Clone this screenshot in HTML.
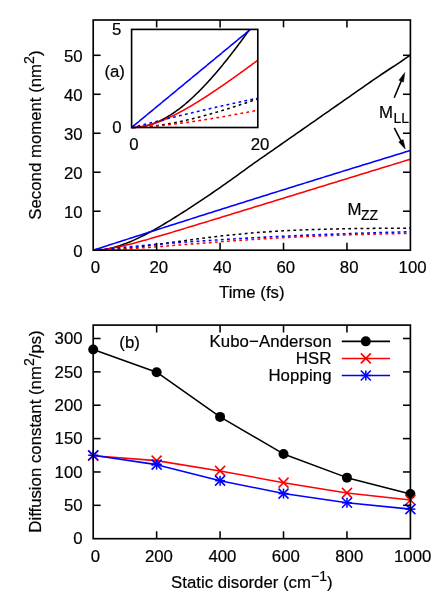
<!DOCTYPE html>
<html lang="en"><head><meta charset="utf-8"><title>Second moment and diffusion constant</title>
<style>html,body{margin:0;padding:0;background:#fff}svg{display:block;will-change:transform}text{stroke:#000;stroke-width:0.2px}</style></head>
<body>
<svg width="436" height="610" viewBox="0 0 436 610" font-family="'Liberation Sans', sans-serif" font-size="16.8" fill="#000">
<rect width="436" height="610" fill="#fff"/>
<g fill="none" stroke-width="1.55" stroke-linejoin="round">
<path d="M93.20,250.20 L95.84,250.16 L98.49,250.03 L101.13,249.80 L103.77,249.48 L106.42,249.06 L109.06,248.56 L111.70,247.96 L114.35,247.29 L116.99,246.53 L119.63,245.71 L122.28,244.81 L124.92,243.85 L127.56,242.82 L130.21,241.73 L132.85,240.60 L135.49,239.41 L138.14,238.17 L140.78,236.88 L143.42,235.56 L146.07,234.20 L148.71,232.80 L151.35,231.36 L154.00,229.90 L156.64,228.40 L159.28,226.88 L161.93,225.33 L164.57,223.76 L167.21,222.17 L169.86,220.56 L172.50,218.93 L175.14,217.28 L177.79,215.62 L180.43,213.94 L183.07,212.25 L185.72,210.55 L188.36,208.83 L191.00,207.11 L193.65,205.37 L196.29,203.62 L198.93,201.87 L201.58,200.11 L204.22,198.34 L206.86,196.57 L209.51,194.79 L212.15,193.00 L214.79,191.21 L217.44,189.39 L220.08,187.56 L222.72,185.71 L225.37,183.84 L228.01,181.96 L230.65,180.07 L233.30,178.17 L235.94,176.26 L238.58,174.35 L241.23,172.44 L243.87,170.53 L246.51,168.63 L249.16,166.73 L251.80,164.83 L254.44,162.95 L257.09,161.08 L259.73,159.22 L262.37,157.39 L265.02,155.55 L267.66,153.71 L270.30,151.87 L272.95,150.03 L275.59,148.19 L278.23,146.35 L280.88,144.51 L283.52,142.67 L286.16,140.82 L288.81,138.98 L291.45,137.14 L294.09,135.29 L296.74,133.45 L299.38,131.60 L302.02,129.76 L304.67,127.91 L307.31,126.07 L309.95,124.22 L312.60,122.38 L315.24,120.53 L317.88,118.69 L320.53,116.84 L323.17,114.99 L325.81,113.15 L328.46,111.30 L331.10,109.45 L333.74,107.61 L336.39,105.76 L339.03,103.91 L341.67,102.07 L344.32,100.22 L346.96,98.37 L349.60,96.53 L352.25,94.68 L354.89,92.83 L357.53,90.98 L360.18,89.14 L362.82,87.29 L365.46,85.44 L368.11,83.59 L370.75,81.75 L373.39,79.90 L376.04,78.08 L378.68,76.28 L381.32,74.51 L383.97,72.74 L386.61,71.00 L389.25,69.25 L391.90,67.52 L394.54,65.78 L397.18,64.03 L399.83,62.28 L402.47,60.51 L405.11,58.73 L407.76,56.92 L410.40,55.09" stroke="#000" />
<path d="M93.20,250.20 L95.84,250.15 L98.49,250.01 L101.13,249.79 L103.77,249.50 L106.42,249.15 L109.06,248.74 L111.70,248.29 L114.35,247.79 L116.99,247.26 L119.63,246.69 L122.28,246.10 L124.92,245.47 L127.56,244.83 L130.21,244.16 L132.85,243.48 L135.49,242.79 L138.14,242.07 L140.78,241.35 L143.42,240.62 L146.07,239.88 L148.71,239.12 L151.35,238.37 L154.00,237.60 L156.64,236.83 L159.28,236.06 L161.93,235.28 L164.57,234.49 L167.21,233.71 L169.86,232.92 L172.50,232.12 L175.14,231.33 L177.79,230.53 L180.43,229.73 L183.07,228.93 L185.72,228.13 L188.36,227.33 L191.00,226.52 L193.65,225.72 L196.29,224.91 L198.93,224.11 L201.58,223.30 L204.22,222.49 L206.86,221.68 L209.51,220.88 L212.15,220.07 L214.79,219.26 L217.44,218.45 L220.08,217.64 L222.72,216.83 L225.37,216.02 L228.01,215.21 L230.65,214.39 L233.30,213.58 L235.94,212.77 L238.58,211.96 L241.23,211.15 L243.87,210.34 L246.51,209.53 L249.16,208.72 L251.80,207.90 L254.44,207.09 L257.09,206.28 L259.73,205.47 L262.37,204.66 L265.02,203.84 L267.66,203.03 L270.30,202.22 L272.95,201.41 L275.59,200.60 L278.23,199.78 L280.88,198.97 L283.52,198.16 L286.16,197.35 L288.81,196.54 L291.45,195.72 L294.09,194.91 L296.74,194.10 L299.38,193.29 L302.02,192.48 L304.67,191.66 L307.31,190.85 L309.95,190.04 L312.60,189.23 L315.24,188.42 L317.88,187.60 L320.53,186.79 L323.17,185.98 L325.81,185.17 L328.46,184.36 L331.10,183.54 L333.74,182.73 L336.39,181.92 L339.03,181.11 L341.67,180.30 L344.32,179.48 L346.96,178.67 L349.60,177.86 L352.25,177.05 L354.89,176.24 L357.53,175.42 L360.18,174.61 L362.82,173.80 L365.46,172.99 L368.11,172.18 L370.75,171.36 L373.39,170.55 L376.04,169.74 L378.68,168.93 L381.32,168.11 L383.97,167.30 L386.61,166.49 L389.25,165.68 L391.90,164.87 L394.54,164.05 L397.18,163.24 L399.83,162.43 L402.47,161.62 L405.11,160.81 L407.76,159.99 L410.40,159.18" stroke="#ff0000" />
<path d="M93.20,250.20 L95.84,249.35 L98.49,248.49 L101.13,247.64 L103.77,246.79 L106.42,245.94 L109.06,245.08 L111.70,244.23 L114.35,243.38 L116.99,242.53 L119.63,241.68 L122.28,240.83 L124.92,239.98 L127.56,239.13 L130.21,238.29 L132.85,237.44 L135.49,236.59 L138.14,235.74 L140.78,234.90 L143.42,234.05 L146.07,233.20 L148.71,232.36 L151.35,231.51 L154.00,230.67 L156.64,229.82 L159.28,228.98 L161.93,228.13 L164.57,227.29 L167.21,226.45 L169.86,225.60 L172.50,224.76 L175.14,223.92 L177.79,223.08 L180.43,222.24 L183.07,221.39 L185.72,220.55 L188.36,219.71 L191.00,218.87 L193.65,218.03 L196.29,217.20 L198.93,216.36 L201.58,215.52 L204.22,214.68 L206.86,213.84 L209.51,213.01 L212.15,212.17 L214.79,211.33 L217.44,210.50 L220.08,209.66 L222.72,208.83 L225.37,207.99 L228.01,207.16 L230.65,206.32 L233.30,205.49 L235.94,204.65 L238.58,203.82 L241.23,202.99 L243.87,202.16 L246.51,201.33 L249.16,200.49 L251.80,199.66 L254.44,198.83 L257.09,198.00 L259.73,197.17 L262.37,196.34 L265.02,195.51 L267.66,194.68 L270.30,193.86 L272.95,193.03 L275.59,192.20 L278.23,191.37 L280.88,190.55 L283.52,189.72 L286.16,188.89 L288.81,188.07 L291.45,187.24 L294.09,186.42 L296.74,185.59 L299.38,184.77 L302.02,183.94 L304.67,183.12 L307.31,182.30 L309.95,181.47 L312.60,180.65 L315.24,179.83 L317.88,179.01 L320.53,178.19 L323.17,177.37 L325.81,176.55 L328.46,175.73 L331.10,174.91 L333.74,174.09 L336.39,173.27 L339.03,172.45 L341.67,171.63 L344.32,170.81 L346.96,169.99 L349.60,169.18 L352.25,168.36 L354.89,167.54 L357.53,166.73 L360.18,165.91 L362.82,165.10 L365.46,164.28 L368.11,163.47 L370.75,162.65 L373.39,161.84 L376.04,161.03 L378.68,160.21 L381.32,159.40 L383.97,158.59 L386.61,157.78 L389.25,156.97 L391.90,156.16 L394.54,155.35 L397.18,154.53 L399.83,153.72 L402.47,152.92 L405.11,152.11 L407.76,151.30 L410.40,150.49" stroke="#0000ff" />
<path d="M93.20,250.20 L95.84,250.18 L98.49,250.12 L101.13,250.03 L103.77,249.92 L106.42,249.79 L109.06,249.64 L111.70,249.46 L114.35,249.27 L116.99,249.07 L119.63,248.84 L122.28,248.60 L124.92,248.35 L127.56,248.08 L130.21,247.80 L132.85,247.51 L135.49,247.21 L138.14,246.90 L140.78,246.58 L143.42,246.25 L146.07,245.91 L148.71,245.57 L151.35,245.22 L154.00,244.87 L156.64,244.51 L159.28,244.15 L161.93,243.79 L164.57,243.42 L167.21,243.05 L169.86,242.68 L172.50,242.31 L175.14,241.94 L177.79,241.58 L180.43,241.21 L183.07,240.84 L185.72,240.48 L188.36,240.12 L191.00,239.76 L193.65,239.41 L196.29,239.05 L198.93,238.71 L201.58,238.37 L204.22,238.03 L206.86,237.70 L209.51,237.37 L212.15,237.05 L214.79,236.73 L217.44,236.42 L220.08,236.12 L222.72,235.82 L225.37,235.53 L228.01,235.25 L230.65,234.97 L233.30,234.70 L235.94,234.43 L238.58,234.18 L241.23,233.93 L243.87,233.68 L246.51,233.45 L249.16,233.22 L251.80,232.99 L254.44,232.78 L257.09,232.57 L259.73,232.37 L262.37,232.17 L265.02,231.98 L267.66,231.80 L270.30,231.62 L272.95,231.45 L275.59,231.29 L278.23,231.13 L280.88,230.98 L283.52,230.83 L286.16,230.69 L288.81,230.56 L291.45,230.43 L294.09,230.30 L296.74,230.18 L299.38,230.07 L302.02,229.96 L304.67,229.85 L307.31,229.75 L309.95,229.66 L312.60,229.57 L315.24,229.48 L317.88,229.40 L320.53,229.32 L323.17,229.24 L325.81,229.17 L328.46,229.10 L331.10,229.04 L333.74,228.98 L336.39,228.92 L339.03,228.86 L341.67,228.81 L344.32,228.76 L346.96,228.71 L349.60,228.67 L352.25,228.63 L354.89,228.59 L357.53,228.55 L360.18,228.51 L362.82,228.48 L365.46,228.45 L368.11,228.42 L370.75,228.39 L373.39,228.36 L376.04,228.34 L378.68,228.31 L381.32,228.29 L383.97,228.27 L386.61,228.25 L389.25,228.23 L391.90,228.22 L394.54,228.20 L397.18,228.19 L399.83,228.17 L402.47,228.16 L405.11,228.15 L407.76,228.13 L410.40,228.12" stroke="#000" stroke-dasharray="2.8 3.3"/>
<path d="M93.20,250.20 L95.84,250.17 L98.49,250.12 L101.13,250.05 L103.77,249.97 L106.42,249.88 L109.06,249.77 L111.70,249.66 L114.35,249.53 L116.99,249.40 L119.63,249.26 L122.28,249.11 L124.92,248.96 L127.56,248.80 L130.21,248.64 L132.85,248.47 L135.49,248.29 L138.14,248.11 L140.78,247.93 L143.42,247.75 L146.07,247.56 L148.71,247.36 L151.35,247.17 L154.00,246.97 L156.64,246.77 L159.28,246.57 L161.93,246.36 L164.57,246.16 L167.21,245.95 L169.86,245.74 L172.50,245.53 L175.14,245.32 L177.79,245.11 L180.43,244.90 L183.07,244.69 L185.72,244.48 L188.36,244.27 L191.00,244.06 L193.65,243.85 L196.29,243.64 L198.93,243.43 L201.58,243.22 L204.22,243.02 L206.86,242.81 L209.51,242.61 L212.15,242.40 L214.79,242.20 L217.44,242.00 L220.08,241.80 L222.72,241.60 L225.37,241.41 L228.01,241.22 L230.65,241.02 L233.30,240.83 L235.94,240.65 L238.58,240.46 L241.23,240.28 L243.87,240.10 L246.51,239.92 L249.16,239.74 L251.80,239.57 L254.44,239.39 L257.09,239.22 L259.73,239.06 L262.37,238.89 L265.02,238.73 L267.66,238.57 L270.30,238.41 L272.95,238.26 L275.59,238.10 L278.23,237.95 L280.88,237.81 L283.52,237.66 L286.16,237.52 L288.81,237.38 L291.45,237.24 L294.09,237.11 L296.74,236.97 L299.38,236.84 L302.02,236.72 L304.67,236.59 L307.31,236.47 L309.95,236.35 L312.60,236.23 L315.24,236.11 L317.88,236.00 L320.53,235.89 L323.17,235.78 L325.81,235.68 L328.46,235.57 L331.10,235.47 L333.74,235.37 L336.39,235.28 L339.03,235.18 L341.67,235.09 L344.32,235.00 L346.96,234.91 L349.60,234.83 L352.25,234.74 L354.89,234.66 L357.53,234.58 L360.18,234.50 L362.82,234.43 L365.46,234.35 L368.11,234.28 L370.75,234.21 L373.39,234.14 L376.04,234.08 L378.68,234.01 L381.32,233.95 L383.97,233.89 L386.61,233.83 L389.25,233.77 L391.90,233.71 L394.54,233.66 L397.18,233.60 L399.83,233.55 L402.47,233.50 L405.11,233.45 L407.76,233.40 L410.40,233.36" stroke="#ff0000" stroke-dasharray="2.8 3.3"/>
<path d="M93.20,250.20 L95.84,249.95 L98.49,249.70 L101.13,249.44 L103.77,249.18 L106.42,248.92 L109.06,248.66 L111.70,248.41 L114.35,248.15 L116.99,247.90 L119.63,247.65 L122.28,247.40 L124.92,247.16 L127.56,246.91 L130.21,246.67 L132.85,246.43 L135.49,246.19 L138.14,245.96 L140.78,245.72 L143.42,245.49 L146.07,245.26 L148.71,245.04 L151.35,244.81 L154.00,244.59 L156.64,244.37 L159.28,244.15 L161.93,243.94 L164.57,243.72 L167.21,243.51 L169.86,243.30 L172.50,243.10 L175.14,242.89 L177.79,242.69 L180.43,242.49 L183.07,242.29 L185.72,242.10 L188.36,241.90 L191.00,241.71 L193.65,241.52 L196.29,241.33 L198.93,241.15 L201.58,240.96 L204.22,240.78 L206.86,240.60 L209.51,240.43 L212.15,240.25 L214.79,240.08 L217.44,239.90 L220.08,239.74 L222.72,239.57 L225.37,239.40 L228.01,239.24 L230.65,239.07 L233.30,238.91 L235.94,238.75 L238.58,238.60 L241.23,238.44 L243.87,238.29 L246.51,238.14 L249.16,237.99 L251.80,237.84 L254.44,237.69 L257.09,237.54 L259.73,237.40 L262.37,237.26 L265.02,237.12 L267.66,236.98 L270.30,236.84 L272.95,236.70 L275.59,236.57 L278.23,236.44 L280.88,236.31 L283.52,236.18 L286.16,236.05 L288.81,235.93 L291.45,235.81 L294.09,235.69 L296.74,235.58 L299.38,235.46 L302.02,235.35 L304.67,235.24 L307.31,235.13 L309.95,235.02 L312.60,234.91 L315.24,234.80 L317.88,234.70 L320.53,234.59 L323.17,234.49 L325.81,234.39 L328.46,234.29 L331.10,234.19 L333.74,234.09 L336.39,233.99 L339.03,233.90 L341.67,233.80 L344.32,233.71 L346.96,233.62 L349.60,233.53 L352.25,233.44 L354.89,233.35 L357.53,233.26 L360.18,233.18 L362.82,233.09 L365.46,233.01 L368.11,232.93 L370.75,232.85 L373.39,232.77 L376.04,232.69 L378.68,232.61 L381.32,232.53 L383.97,232.45 L386.61,232.38 L389.25,232.30 L391.90,232.23 L394.54,232.16 L397.18,232.09 L399.83,232.01 L402.47,231.94 L405.11,231.88 L407.76,231.81 L410.40,231.74" stroke="#0000ff" stroke-dasharray="2.8 3.3"/>
</g>
<rect x="131.60" y="29.40" width="126.20" height="98.10" fill="#fff"/>
<g fill="none" stroke-width="1.55" stroke-linejoin="round">
<path d="M131.60,127.50 L132.23,127.50 L132.86,127.49 L133.49,127.48 L134.12,127.46 L134.75,127.43 L135.39,127.40 L136.02,127.36 L136.65,127.32 L137.28,127.26 L137.91,127.21 L138.54,127.14 L139.17,127.07 L139.80,126.99 L140.43,126.90 L141.06,126.81 L141.70,126.71 L142.33,126.60 L142.96,126.49 L143.59,126.37 L144.22,126.24 L144.85,126.10 L145.48,125.96 L146.11,125.81 L146.74,125.66 L147.38,125.49 L148.01,125.32 L148.64,125.15 L149.27,124.96 L149.90,124.77 L150.53,124.57 L151.16,124.37 L151.79,124.16 L152.42,123.94 L153.05,123.72 L153.69,123.49 L154.32,123.25 L154.95,123.00 L155.58,122.75 L156.21,122.49 L156.84,122.23 L157.47,121.96 L158.10,121.68 L158.73,121.39 L159.36,121.10 L160.00,120.81 L160.63,120.50 L161.26,120.19 L161.89,119.88 L162.52,119.55 L163.15,119.22 L163.78,118.89 L164.41,118.55 L165.04,118.20 L165.67,117.84 L166.31,117.48 L166.94,117.12 L167.57,116.75 L168.20,116.37 L168.83,115.98 L169.46,115.59 L170.09,115.20 L170.72,114.79 L171.35,114.39 L171.98,113.97 L172.62,113.55 L173.25,113.13 L173.88,112.70 L174.51,112.26 L175.14,111.82 L175.77,111.37 L176.40,110.92 L177.03,110.46 L177.66,109.99 L178.29,109.52 L178.93,109.05 L179.56,108.57 L180.19,108.08 L180.82,107.59 L181.45,107.10 L182.08,106.59 L182.71,106.09 L183.34,105.57 L183.97,105.06 L184.60,104.53 L185.24,104.01 L185.87,103.47 L186.50,102.94 L187.13,102.40 L187.76,101.85 L188.39,101.30 L189.02,100.74 L189.65,100.18 L190.28,99.61 L190.91,99.04 L191.55,98.46 L192.18,97.88 L192.81,97.30 L193.44,96.71 L194.07,96.11 L194.70,95.51 L195.33,94.91 L195.96,94.30 L196.59,93.69 L197.22,93.07 L197.86,92.45 L198.49,91.83 L199.12,91.20 L199.75,90.56 L200.38,89.92 L201.01,89.28 L201.64,88.63 L202.27,87.98 L202.90,87.33 L203.53,86.67 L204.17,86.01 L204.80,85.34 L205.43,84.67 L206.06,83.99 L206.69,83.31 L207.32,82.63 L207.95,81.94 L208.58,81.25 L209.21,80.56 L209.84,79.86 L210.47,79.16 L211.11,78.45 L211.74,77.74 L212.37,77.03 L213.00,76.31 L213.63,75.59 L214.26,74.87 L214.89,74.14 L215.52,73.41 L216.15,72.68 L216.78,71.94 L217.42,71.20 L218.05,70.45 L218.68,69.71 L219.31,68.95 L219.94,68.20 L220.57,67.44 L221.20,66.68 L221.83,65.92 L222.46,65.15 L223.09,64.38 L223.73,63.60 L224.36,62.83 L224.99,62.05 L225.62,61.26 L226.25,60.48 L226.88,59.69 L227.51,58.90 L228.14,58.10 L228.77,57.30 L229.41,56.50 L230.04,55.70 L230.67,54.89 L231.30,54.08 L231.93,53.27 L232.56,52.45 L233.19,51.63 L233.82,50.81 L234.45,49.99 L235.08,49.16 L235.72,48.33 L236.35,47.50 L236.98,46.67 L237.61,45.83 L238.24,44.99 L238.87,44.15 L239.50,43.30 L240.13,42.46 L240.76,41.61 L241.39,40.75 L242.03,39.90 L242.66,39.04 L243.29,38.18 L243.92,37.32 L244.55,36.46 L245.18,35.59 L245.81,34.72 L246.44,33.85 L247.07,32.97 L247.70,32.10 L248.34,31.22 L248.97,30.34 L249.60,29.46 L249.64,29.40" stroke="#000" />
<path d="M131.60,127.50 L132.23,127.50 L132.86,127.49 L133.49,127.47 L134.12,127.44 L134.75,127.41 L135.39,127.37 L136.02,127.32 L136.65,127.27 L137.28,127.21 L137.91,127.15 L138.54,127.07 L139.17,127.00 L139.80,126.91 L140.43,126.82 L141.06,126.72 L141.70,126.62 L142.33,126.51 L142.96,126.40 L143.59,126.28 L144.22,126.15 L144.85,126.02 L145.48,125.89 L146.11,125.74 L146.74,125.60 L147.38,125.45 L148.01,125.29 L148.64,125.13 L149.27,124.96 L149.90,124.79 L150.53,124.61 L151.16,124.43 L151.79,124.24 L152.42,124.05 L153.05,123.86 L153.69,123.66 L154.32,123.45 L154.95,123.24 L155.58,123.03 L156.21,122.81 L156.84,122.59 L157.47,122.37 L158.10,122.14 L158.73,121.91 L159.36,121.67 L160.00,121.43 L160.63,121.19 L161.26,120.94 L161.89,120.69 L162.52,120.43 L163.15,120.17 L163.78,119.91 L164.41,119.64 L165.04,119.37 L165.67,119.10 L166.31,118.83 L166.94,118.55 L167.57,118.27 L168.20,117.98 L168.83,117.69 L169.46,117.40 L170.09,117.11 L170.72,116.81 L171.35,116.51 L171.98,116.21 L172.62,115.90 L173.25,115.59 L173.88,115.28 L174.51,114.97 L175.14,114.65 L175.77,114.33 L176.40,114.01 L177.03,113.68 L177.66,113.36 L178.29,113.03 L178.93,112.69 L179.56,112.36 L180.19,112.02 L180.82,111.68 L181.45,111.34 L182.08,111.00 L182.71,110.65 L183.34,110.31 L183.97,109.96 L184.60,109.60 L185.24,109.25 L185.87,108.89 L186.50,108.54 L187.13,108.18 L187.76,107.81 L188.39,107.45 L189.02,107.08 L189.65,106.72 L190.28,106.35 L190.91,105.97 L191.55,105.60 L192.18,105.23 L192.81,104.85 L193.44,104.47 L194.07,104.09 L194.70,103.71 L195.33,103.32 L195.96,102.94 L196.59,102.55 L197.22,102.16 L197.86,101.77 L198.49,101.38 L199.12,100.99 L199.75,100.60 L200.38,100.20 L201.01,99.80 L201.64,99.40 L202.27,99.01 L202.90,98.60 L203.53,98.20 L204.17,97.80 L204.80,97.39 L205.43,96.99 L206.06,96.58 L206.69,96.17 L207.32,95.76 L207.95,95.35 L208.58,94.93 L209.21,94.52 L209.84,94.11 L210.47,93.69 L211.11,93.27 L211.74,92.85 L212.37,92.43 L213.00,92.01 L213.63,91.59 L214.26,91.17 L214.89,90.75 L215.52,90.32 L216.15,89.90 L216.78,89.47 L217.42,89.04 L218.05,88.61 L218.68,88.18 L219.31,87.75 L219.94,87.32 L220.57,86.89 L221.20,86.46 L221.83,86.02 L222.46,85.59 L223.09,85.15 L223.73,84.72 L224.36,84.28 L224.99,83.84 L225.62,83.40 L226.25,82.96 L226.88,82.52 L227.51,82.08 L228.14,81.64 L228.77,81.20 L229.41,80.75 L230.04,80.31 L230.67,79.86 L231.30,79.42 L231.93,78.97 L232.56,78.53 L233.19,78.08 L233.82,77.63 L234.45,77.18 L235.08,76.73 L235.72,76.28 L236.35,75.83 L236.98,75.38 L237.61,74.93 L238.24,74.48 L238.87,74.02 L239.50,73.57 L240.13,73.12 L240.76,72.66 L241.39,72.21 L242.03,71.75 L242.66,71.30 L243.29,70.84 L243.92,70.38 L244.55,69.92 L245.18,69.47 L245.81,69.01 L246.44,68.55 L247.07,68.09 L247.70,67.63 L248.34,67.17 L248.97,66.71 L249.60,66.25 L250.23,65.78 L250.86,65.32 L251.49,64.86 L252.12,64.40 L252.75,63.93 L253.38,63.47 L254.01,63.00 L254.65,62.54 L255.28,62.07 L255.91,61.61 L256.54,61.14 L257.17,60.68 L257.80,60.21" stroke="#ff0000" />
<path d="M131.60,127.50 L132.23,126.98 L132.86,126.46 L133.49,125.94 L134.12,125.42 L134.75,124.90 L135.39,124.37 L136.02,123.85 L136.65,123.33 L137.28,122.81 L137.91,122.29 L138.54,121.77 L139.17,121.25 L139.80,120.73 L140.43,120.21 L141.06,119.69 L141.70,119.17 L142.33,118.64 L142.96,118.12 L143.59,117.60 L144.22,117.08 L144.85,116.56 L145.48,116.04 L146.11,115.52 L146.74,115.00 L147.38,114.48 L148.01,113.96 L148.64,113.44 L149.27,112.91 L149.90,112.39 L150.53,111.87 L151.16,111.35 L151.79,110.83 L152.42,110.31 L153.05,109.79 L153.69,109.27 L154.32,108.75 L154.95,108.23 L155.58,107.71 L156.21,107.18 L156.84,106.66 L157.47,106.14 L158.10,105.62 L158.73,105.10 L159.36,104.58 L160.00,104.06 L160.63,103.54 L161.26,103.02 L161.89,102.50 L162.52,101.98 L163.15,101.45 L163.78,100.93 L164.41,100.41 L165.04,99.89 L165.67,99.37 L166.31,98.85 L166.94,98.33 L167.57,97.81 L168.20,97.29 L168.83,96.77 L169.46,96.25 L170.09,95.72 L170.72,95.20 L171.35,94.68 L171.98,94.16 L172.62,93.64 L173.25,93.12 L173.88,92.60 L174.51,92.08 L175.14,91.56 L175.77,91.04 L176.40,90.52 L177.03,89.99 L177.66,89.47 L178.29,88.95 L178.93,88.43 L179.56,87.91 L180.19,87.39 L180.82,86.87 L181.45,86.35 L182.08,85.83 L182.71,85.31 L183.34,84.79 L183.97,84.26 L184.60,83.74 L185.24,83.22 L185.87,82.70 L186.50,82.18 L187.13,81.66 L187.76,81.14 L188.39,80.62 L189.02,80.10 L189.65,79.58 L190.28,79.06 L190.91,78.53 L191.55,78.01 L192.18,77.49 L192.81,76.97 L193.44,76.45 L194.07,75.93 L194.70,75.41 L195.33,74.89 L195.96,74.37 L196.59,73.85 L197.22,73.33 L197.86,72.80 L198.49,72.28 L199.12,71.76 L199.75,71.24 L200.38,70.72 L201.01,70.20 L201.64,69.68 L202.27,69.16 L202.90,68.64 L203.53,68.12 L204.17,67.60 L204.80,67.07 L205.43,66.55 L206.06,66.03 L206.69,65.51 L207.32,64.99 L207.95,64.47 L208.58,63.95 L209.21,63.43 L209.84,62.91 L210.47,62.39 L211.11,61.87 L211.74,61.34 L212.37,60.82 L213.00,60.30 L213.63,59.78 L214.26,59.26 L214.89,58.74 L215.52,58.22 L216.15,57.70 L216.78,57.18 L217.42,56.66 L218.05,56.14 L218.68,55.61 L219.31,55.09 L219.94,54.57 L220.57,54.05 L221.20,53.53 L221.83,53.01 L222.46,52.49 L223.09,51.97 L223.73,51.45 L224.36,50.93 L224.99,50.41 L225.62,49.88 L226.25,49.36 L226.88,48.84 L227.51,48.32 L228.14,47.80 L228.77,47.28 L229.41,46.76 L230.04,46.24 L230.67,45.72 L231.30,45.20 L231.93,44.68 L232.56,44.15 L233.19,43.63 L233.82,43.11 L234.45,42.59 L235.08,42.07 L235.72,41.55 L236.35,41.03 L236.98,40.51 L237.61,39.99 L238.24,39.47 L238.87,38.95 L239.50,38.42 L240.13,37.90 L240.76,37.38 L241.39,36.86 L242.03,36.34 L242.66,35.82 L243.29,35.30 L243.92,34.78 L244.55,34.26 L245.18,33.74 L245.81,33.22 L246.44,32.69 L247.07,32.17 L247.70,31.65 L248.34,31.13 L248.97,30.61 L249.60,30.09 L250.23,29.57 L250.43,29.40" stroke="#0000ff" />
<path d="M131.60,127.50 L132.23,127.50 L132.86,127.49 L133.49,127.48 L134.12,127.47 L134.75,127.45 L135.39,127.43 L136.02,127.41 L136.65,127.39 L137.28,127.36 L137.91,127.33 L138.54,127.30 L139.17,127.27 L139.80,127.23 L140.43,127.20 L141.06,127.16 L141.70,127.12 L142.33,127.07 L142.96,127.03 L143.59,126.98 L144.22,126.93 L144.85,126.88 L145.48,126.83 L146.11,126.77 L146.74,126.72 L147.38,126.66 L148.01,126.60 L148.64,126.54 L149.27,126.47 L149.90,126.41 L150.53,126.34 L151.16,126.27 L151.79,126.20 L152.42,126.13 L153.05,126.06 L153.69,125.98 L154.32,125.91 L154.95,125.83 L155.58,125.75 L156.21,125.67 L156.84,125.58 L157.47,125.50 L158.10,125.41 L158.73,125.32 L159.36,125.23 L160.00,125.14 L160.63,125.05 L161.26,124.96 L161.89,124.86 L162.52,124.77 L163.15,124.67 L163.78,124.57 L164.41,124.47 L165.04,124.37 L165.67,124.26 L166.31,124.16 L166.94,124.05 L167.57,123.95 L168.20,123.84 L168.83,123.73 L169.46,123.61 L170.09,123.50 L170.72,123.39 L171.35,123.27 L171.98,123.16 L172.62,123.04 L173.25,122.92 L173.88,122.80 L174.51,122.68 L175.14,122.55 L175.77,122.43 L176.40,122.30 L177.03,122.18 L177.66,122.05 L178.29,121.92 L178.93,121.79 L179.56,121.66 L180.19,121.52 L180.82,121.39 L181.45,121.26 L182.08,121.12 L182.71,120.98 L183.34,120.84 L183.97,120.71 L184.60,120.56 L185.24,120.42 L185.87,120.28 L186.50,120.14 L187.13,119.99 L187.76,119.85 L188.39,119.70 L189.02,119.55 L189.65,119.40 L190.28,119.25 L190.91,119.10 L191.55,118.95 L192.18,118.80 L192.81,118.64 L193.44,118.49 L194.07,118.33 L194.70,118.17 L195.33,118.02 L195.96,117.86 L196.59,117.70 L197.22,117.54 L197.86,117.38 L198.49,117.21 L199.12,117.05 L199.75,116.88 L200.38,116.72 L201.01,116.55 L201.64,116.39 L202.27,116.22 L202.90,116.05 L203.53,115.88 L204.17,115.71 L204.80,115.54 L205.43,115.37 L206.06,115.19 L206.69,115.02 L207.32,114.84 L207.95,114.67 L208.58,114.49 L209.21,114.31 L209.84,114.14 L210.47,113.96 L211.11,113.78 L211.74,113.60 L212.37,113.42 L213.00,113.24 L213.63,113.05 L214.26,112.87 L214.89,112.69 L215.52,112.50 L216.15,112.32 L216.78,112.13 L217.42,111.94 L218.05,111.76 L218.68,111.57 L219.31,111.38 L219.94,111.19 L220.57,111.00 L221.20,110.81 L221.83,110.62 L222.46,110.43 L223.09,110.23 L223.73,110.04 L224.36,109.85 L224.99,109.65 L225.62,109.46 L226.25,109.26 L226.88,109.06 L227.51,108.87 L228.14,108.67 L228.77,108.47 L229.41,108.27 L230.04,108.08 L230.67,107.88 L231.30,107.68 L231.93,107.47 L232.56,107.27 L233.19,107.07 L233.82,106.87 L234.45,106.67 L235.08,106.46 L235.72,106.26 L236.35,106.06 L236.98,105.85 L237.61,105.65 L238.24,105.44 L238.87,105.23 L239.50,105.03 L240.13,104.82 L240.76,104.61 L241.39,104.40 L242.03,104.20 L242.66,103.99 L243.29,103.78 L243.92,103.57 L244.55,103.36 L245.18,103.15 L245.81,102.94 L246.44,102.73 L247.07,102.52 L247.70,102.30 L248.34,102.09 L248.97,101.88 L249.60,101.67 L250.23,101.45 L250.86,101.24 L251.49,101.02 L252.12,100.81 L252.75,100.60 L253.38,100.38 L254.01,100.17 L254.65,99.95 L255.28,99.73 L255.91,99.52 L256.54,99.30 L257.17,99.09 L257.80,98.87" stroke="#000" stroke-dasharray="2.8 3.3"/>
<path d="M131.60,127.50 L132.23,127.50 L132.86,127.49 L133.49,127.47 L134.12,127.46 L134.75,127.44 L135.39,127.42 L136.02,127.40 L136.65,127.38 L137.28,127.35 L137.91,127.33 L138.54,127.30 L139.17,127.27 L139.80,127.24 L140.43,127.20 L141.06,127.17 L141.70,127.14 L142.33,127.10 L142.96,127.06 L143.59,127.02 L144.22,126.98 L144.85,126.94 L145.48,126.90 L146.11,126.86 L146.74,126.81 L147.38,126.77 L148.01,126.72 L148.64,126.67 L149.27,126.63 L149.90,126.58 L150.53,126.53 L151.16,126.48 L151.79,126.42 L152.42,126.37 L153.05,126.32 L153.69,126.26 L154.32,126.21 L154.95,126.15 L155.58,126.09 L156.21,126.03 L156.84,125.98 L157.47,125.92 L158.10,125.86 L158.73,125.79 L159.36,125.73 L160.00,125.67 L160.63,125.61 L161.26,125.54 L161.89,125.48 L162.52,125.41 L163.15,125.35 L163.78,125.28 L164.41,125.21 L165.04,125.14 L165.67,125.07 L166.31,125.00 L166.94,124.93 L167.57,124.86 L168.20,124.79 L168.83,124.72 L169.46,124.64 L170.09,124.57 L170.72,124.50 L171.35,124.42 L171.98,124.35 L172.62,124.27 L173.25,124.19 L173.88,124.12 L174.51,124.04 L175.14,123.96 L175.77,123.88 L176.40,123.80 L177.03,123.72 L177.66,123.64 L178.29,123.56 L178.93,123.48 L179.56,123.39 L180.19,123.31 L180.82,123.23 L181.45,123.14 L182.08,123.06 L182.71,122.97 L183.34,122.89 L183.97,122.80 L184.60,122.71 L185.24,122.63 L185.87,122.54 L186.50,122.45 L187.13,122.36 L187.76,122.27 L188.39,122.18 L189.02,122.09 L189.65,122.00 L190.28,121.91 L190.91,121.82 L191.55,121.73 L192.18,121.64 L192.81,121.54 L193.44,121.45 L194.07,121.36 L194.70,121.26 L195.33,121.17 L195.96,121.07 L196.59,120.98 L197.22,120.88 L197.86,120.79 L198.49,120.69 L199.12,120.59 L199.75,120.50 L200.38,120.40 L201.01,120.30 L201.64,120.20 L202.27,120.10 L202.90,120.00 L203.53,119.90 L204.17,119.80 L204.80,119.70 L205.43,119.60 L206.06,119.50 L206.69,119.40 L207.32,119.30 L207.95,119.19 L208.58,119.09 L209.21,118.99 L209.84,118.88 L210.47,118.78 L211.11,118.68 L211.74,118.57 L212.37,118.47 L213.00,118.36 L213.63,118.26 L214.26,118.15 L214.89,118.04 L215.52,117.94 L216.15,117.83 L216.78,117.72 L217.42,117.62 L218.05,117.51 L218.68,117.40 L219.31,117.29 L219.94,117.19 L220.57,117.08 L221.20,116.97 L221.83,116.86 L222.46,116.75 L223.09,116.64 L223.73,116.53 L224.36,116.42 L224.99,116.31 L225.62,116.20 L226.25,116.08 L226.88,115.97 L227.51,115.86 L228.14,115.75 L228.77,115.64 L229.41,115.52 L230.04,115.41 L230.67,115.30 L231.30,115.18 L231.93,115.07 L232.56,114.96 L233.19,114.84 L233.82,114.73 L234.45,114.61 L235.08,114.50 L235.72,114.38 L236.35,114.27 L236.98,114.15 L237.61,114.04 L238.24,113.92 L238.87,113.80 L239.50,113.69 L240.13,113.57 L240.76,113.45 L241.39,113.34 L242.03,113.22 L242.66,113.10 L243.29,112.99 L243.92,112.87 L244.55,112.75 L245.18,112.63 L245.81,112.51 L246.44,112.39 L247.07,112.28 L247.70,112.16 L248.34,112.04 L248.97,111.92 L249.60,111.80 L250.23,111.68 L250.86,111.56 L251.49,111.44 L252.12,111.32 L252.75,111.20 L253.38,111.08 L254.01,110.96 L254.65,110.84 L255.28,110.72 L255.91,110.59 L256.54,110.47 L257.17,110.35 L257.80,110.23" stroke="#ff0000" stroke-dasharray="2.8 3.3"/>
<path d="M131.60,127.50 L132.23,127.36 L132.86,127.21 L133.49,127.07 L134.12,126.91 L134.75,126.76 L135.39,126.61 L136.02,126.46 L136.65,126.30 L137.28,126.15 L137.91,126.00 L138.54,125.84 L139.17,125.69 L139.80,125.53 L140.43,125.38 L141.06,125.22 L141.70,125.06 L142.33,124.91 L142.96,124.75 L143.59,124.60 L144.22,124.44 L144.85,124.28 L145.48,124.13 L146.11,123.97 L146.74,123.82 L147.38,123.66 L148.01,123.50 L148.64,123.35 L149.27,123.19 L149.90,123.03 L150.53,122.88 L151.16,122.72 L151.79,122.56 L152.42,122.41 L153.05,122.25 L153.69,122.10 L154.32,121.94 L154.95,121.78 L155.58,121.63 L156.21,121.47 L156.84,121.32 L157.47,121.16 L158.10,121.00 L158.73,120.85 L159.36,120.69 L160.00,120.54 L160.63,120.38 L161.26,120.23 L161.89,120.07 L162.52,119.92 L163.15,119.76 L163.78,119.61 L164.41,119.45 L165.04,119.30 L165.67,119.14 L166.31,118.99 L166.94,118.84 L167.57,118.68 L168.20,118.53 L168.83,118.37 L169.46,118.22 L170.09,118.07 L170.72,117.91 L171.35,117.76 L171.98,117.60 L172.62,117.45 L173.25,117.30 L173.88,117.15 L174.51,116.99 L175.14,116.84 L175.77,116.69 L176.40,116.54 L177.03,116.38 L177.66,116.23 L178.29,116.08 L178.93,115.93 L179.56,115.77 L180.19,115.62 L180.82,115.47 L181.45,115.32 L182.08,115.17 L182.71,115.02 L183.34,114.87 L183.97,114.72 L184.60,114.57 L185.24,114.42 L185.87,114.26 L186.50,114.11 L187.13,113.96 L187.76,113.81 L188.39,113.66 L189.02,113.52 L189.65,113.37 L190.28,113.22 L190.91,113.07 L191.55,112.92 L192.18,112.77 L192.81,112.62 L193.44,112.47 L194.07,112.32 L194.70,112.18 L195.33,112.03 L195.96,111.88 L196.59,111.73 L197.22,111.58 L197.86,111.44 L198.49,111.29 L199.12,111.14 L199.75,110.99 L200.38,110.85 L201.01,110.70 L201.64,110.55 L202.27,110.41 L202.90,110.26 L203.53,110.12 L204.17,109.97 L204.80,109.82 L205.43,109.68 L206.06,109.53 L206.69,109.39 L207.32,109.24 L207.95,109.10 L208.58,108.95 L209.21,108.81 L209.84,108.66 L210.47,108.52 L211.11,108.37 L211.74,108.23 L212.37,108.09 L213.00,107.94 L213.63,107.80 L214.26,107.66 L214.89,107.51 L215.52,107.37 L216.15,107.23 L216.78,107.08 L217.42,106.94 L218.05,106.80 L218.68,106.66 L219.31,106.51 L219.94,106.37 L220.57,106.23 L221.20,106.09 L221.83,105.95 L222.46,105.81 L223.09,105.67 L223.73,105.52 L224.36,105.38 L224.99,105.24 L225.62,105.10 L226.25,104.96 L226.88,104.82 L227.51,104.68 L228.14,104.54 L228.77,104.40 L229.41,104.26 L230.04,104.12 L230.67,103.98 L231.30,103.85 L231.93,103.71 L232.56,103.57 L233.19,103.43 L233.82,103.29 L234.45,103.15 L235.08,103.01 L235.72,102.88 L236.35,102.74 L236.98,102.60 L237.61,102.46 L238.24,102.33 L238.87,102.19 L239.50,102.05 L240.13,101.92 L240.76,101.78 L241.39,101.64 L242.03,101.51 L242.66,101.37 L243.29,101.24 L243.92,101.10 L244.55,100.96 L245.18,100.83 L245.81,100.69 L246.44,100.56 L247.07,100.42 L247.70,100.29 L248.34,100.15 L248.97,100.02 L249.60,99.88 L250.23,99.75 L250.86,99.62 L251.49,99.48 L252.12,99.35 L252.75,99.22 L253.38,99.08 L254.01,98.95 L254.65,98.82 L255.28,98.68 L255.91,98.55 L256.54,98.42 L257.17,98.29 L257.80,98.15" stroke="#0000ff" stroke-dasharray="2.8 3.3"/>
</g>
<rect x="131.60" y="29.40" width="126.20" height="98.10" fill="none" stroke="#000" stroke-width="1.65"/>
<rect x="93.20" y="20.00" width="317.20" height="230.20" fill="none" stroke="#000" stroke-width="1.65"/>
<line x1="93.20" y1="211.22" x2="100.60" y2="211.22" stroke="#000" stroke-width="1.55" />
<line x1="410.40" y1="211.22" x2="403.00" y2="211.22" stroke="#000" stroke-width="1.55" />
<line x1="93.20" y1="172.24" x2="100.60" y2="172.24" stroke="#000" stroke-width="1.55" />
<line x1="410.40" y1="172.24" x2="403.00" y2="172.24" stroke="#000" stroke-width="1.55" />
<line x1="93.20" y1="133.26" x2="100.60" y2="133.26" stroke="#000" stroke-width="1.55" />
<line x1="410.40" y1="133.26" x2="403.00" y2="133.26" stroke="#000" stroke-width="1.55" />
<line x1="93.20" y1="94.28" x2="100.60" y2="94.28" stroke="#000" stroke-width="1.55" />
<line x1="410.40" y1="94.28" x2="403.00" y2="94.28" stroke="#000" stroke-width="1.55" />
<line x1="93.20" y1="55.30" x2="100.60" y2="55.30" stroke="#000" stroke-width="1.55" />
<line x1="410.40" y1="55.30" x2="403.00" y2="55.30" stroke="#000" stroke-width="1.55" />
<line x1="156.64" y1="250.20" x2="156.64" y2="242.80" stroke="#000" stroke-width="1.55" />
<line x1="156.64" y1="20.00" x2="156.64" y2="27.40" stroke="#000" stroke-width="1.55" />
<line x1="220.08" y1="250.20" x2="220.08" y2="242.80" stroke="#000" stroke-width="1.55" />
<line x1="220.08" y1="20.00" x2="220.08" y2="27.40" stroke="#000" stroke-width="1.55" />
<line x1="283.52" y1="250.20" x2="283.52" y2="242.80" stroke="#000" stroke-width="1.55" />
<line x1="283.52" y1="20.00" x2="283.52" y2="27.40" stroke="#000" stroke-width="1.55" />
<line x1="346.96" y1="250.20" x2="346.96" y2="242.80" stroke="#000" stroke-width="1.55" />
<line x1="346.96" y1="20.00" x2="346.96" y2="27.40" stroke="#000" stroke-width="1.55" />
<text x="82.60" y="256.51" text-anchor="end" >0</text>
<text x="82.60" y="217.53" text-anchor="end" >10</text>
<text x="82.60" y="178.55" text-anchor="end" >20</text>
<text x="82.60" y="139.57" text-anchor="end" >30</text>
<text x="82.60" y="100.59" text-anchor="end" >40</text>
<text x="82.60" y="61.61" text-anchor="end" >50</text>
<text x="95.40" y="273.30" text-anchor="middle" >0</text>
<text x="158.84" y="273.30" text-anchor="middle" >20</text>
<text x="222.28" y="273.30" text-anchor="middle" >40</text>
<text x="285.72" y="273.30" text-anchor="middle" >60</text>
<text x="349.16" y="273.30" text-anchor="middle" >80</text>
<text x="412.60" y="273.30" text-anchor="middle" >100</text>
<text x="251.80" y="298.20" text-anchor="middle" >Time (fs)</text>
<text transform="translate(41.3,135.1) rotate(-90)" text-anchor="middle">Second moment (nm<tspan font-size="14" dy="-7.8">2</tspan><tspan dy="7.8">)</tspan></text>
<text x="121.30" y="34.81" text-anchor="end" >5</text>
<text x="121.60" y="133.01" text-anchor="end" >0</text>
<text x="133.80" y="150.20" text-anchor="middle" >0</text>
<text x="260.00" y="150.20" text-anchor="middle" >20</text>
<text x="104.40" y="76.60" text-anchor="start" >(a)</text>
<text x="379.0" y="117.6">M<tspan font-size="14" dy="5.1" dx="0.6">LL</tspan></text>
<text x="347.6" y="215.1">M<tspan font-size="14" dy="5.1" dx="-0.6">ZZ</tspan></text>
<line x1="394.20" y1="97.80" x2="403.64" y2="75.37" stroke="#000" stroke-width="1.55" />
<polygon points="398.91,80.18 404.80,72.60 403.49,82.11" fill="#000" stroke="#000" stroke-width="0.5" stroke-linejoin="miter"/>
<line x1="394.30" y1="127.90" x2="403.82" y2="146.33" stroke="#000" stroke-width="1.55" />
<polygon points="403.15,139.62 405.20,149.00 398.74,141.90" fill="#000" stroke="#000" stroke-width="0.5" stroke-linejoin="miter"/>
<polyline fill="none" stroke="#000" stroke-width="1.55" stroke-linejoin="round" points="93.20,349.51 156.64,372.20 220.08,416.91 283.52,453.95 346.96,477.64 410.40,494.12"/>
<circle cx="93.20" cy="349.51" r="5.00" fill="#000"/>
<circle cx="156.64" cy="372.20" r="5.00" fill="#000"/>
<circle cx="220.08" cy="416.91" r="5.00" fill="#000"/>
<circle cx="283.52" cy="453.95" r="5.00" fill="#000"/>
<circle cx="346.96" cy="477.64" r="5.00" fill="#000"/>
<circle cx="410.40" cy="494.12" r="5.00" fill="#000"/>
<polyline fill="none" stroke="#ff0000" stroke-width="1.55" stroke-linejoin="round" points="93.20,455.75 156.64,460.62 220.08,470.90 283.52,482.64 346.96,492.92 410.40,499.99"/>
<line x1="88.20" y1="450.75" x2="98.20" y2="460.75" stroke="#ff0000" stroke-width="1.55" />
<line x1="88.20" y1="460.75" x2="98.20" y2="450.75" stroke="#ff0000" stroke-width="1.55" />
<line x1="151.64" y1="455.62" x2="161.64" y2="465.62" stroke="#ff0000" stroke-width="1.55" />
<line x1="151.64" y1="465.62" x2="161.64" y2="455.62" stroke="#ff0000" stroke-width="1.55" />
<line x1="215.08" y1="465.90" x2="225.08" y2="475.90" stroke="#ff0000" stroke-width="1.55" />
<line x1="215.08" y1="475.90" x2="225.08" y2="465.90" stroke="#ff0000" stroke-width="1.55" />
<line x1="278.52" y1="477.64" x2="288.52" y2="487.64" stroke="#ff0000" stroke-width="1.55" />
<line x1="278.52" y1="487.64" x2="288.52" y2="477.64" stroke="#ff0000" stroke-width="1.55" />
<line x1="341.96" y1="487.92" x2="351.96" y2="497.92" stroke="#ff0000" stroke-width="1.55" />
<line x1="341.96" y1="497.92" x2="351.96" y2="487.92" stroke="#ff0000" stroke-width="1.55" />
<line x1="405.40" y1="494.99" x2="415.40" y2="504.99" stroke="#ff0000" stroke-width="1.55" />
<line x1="405.40" y1="504.99" x2="415.40" y2="494.99" stroke="#ff0000" stroke-width="1.55" />
<polyline fill="none" stroke="#0000ff" stroke-width="1.55" stroke-linejoin="round" points="93.20,455.22 156.64,464.63 220.08,480.64 283.52,493.59 346.96,502.80 410.40,509.14"/>
<line x1="88.20" y1="450.22" x2="98.20" y2="460.22" stroke="#0000ff" stroke-width="1.55" />
<line x1="88.20" y1="460.22" x2="98.20" y2="450.22" stroke="#0000ff" stroke-width="1.55" />
<line x1="88.20" y1="455.22" x2="98.20" y2="455.22" stroke="#0000ff" stroke-width="1.55" />
<line x1="93.20" y1="450.22" x2="93.20" y2="460.22" stroke="#0000ff" stroke-width="1.55" />
<line x1="151.64" y1="459.63" x2="161.64" y2="469.63" stroke="#0000ff" stroke-width="1.55" />
<line x1="151.64" y1="469.63" x2="161.64" y2="459.63" stroke="#0000ff" stroke-width="1.55" />
<line x1="151.64" y1="464.63" x2="161.64" y2="464.63" stroke="#0000ff" stroke-width="1.55" />
<line x1="156.64" y1="459.63" x2="156.64" y2="469.63" stroke="#0000ff" stroke-width="1.55" />
<line x1="215.08" y1="475.64" x2="225.08" y2="485.64" stroke="#0000ff" stroke-width="1.55" />
<line x1="215.08" y1="485.64" x2="225.08" y2="475.64" stroke="#0000ff" stroke-width="1.55" />
<line x1="215.08" y1="480.64" x2="225.08" y2="480.64" stroke="#0000ff" stroke-width="1.55" />
<line x1="220.08" y1="475.64" x2="220.08" y2="485.64" stroke="#0000ff" stroke-width="1.55" />
<line x1="278.52" y1="488.59" x2="288.52" y2="498.59" stroke="#0000ff" stroke-width="1.55" />
<line x1="278.52" y1="498.59" x2="288.52" y2="488.59" stroke="#0000ff" stroke-width="1.55" />
<line x1="278.52" y1="493.59" x2="288.52" y2="493.59" stroke="#0000ff" stroke-width="1.55" />
<line x1="283.52" y1="488.59" x2="283.52" y2="498.59" stroke="#0000ff" stroke-width="1.55" />
<line x1="341.96" y1="497.80" x2="351.96" y2="507.80" stroke="#0000ff" stroke-width="1.55" />
<line x1="341.96" y1="507.80" x2="351.96" y2="497.80" stroke="#0000ff" stroke-width="1.55" />
<line x1="341.96" y1="502.80" x2="351.96" y2="502.80" stroke="#0000ff" stroke-width="1.55" />
<line x1="346.96" y1="497.80" x2="346.96" y2="507.80" stroke="#0000ff" stroke-width="1.55" />
<line x1="405.40" y1="504.14" x2="415.40" y2="514.14" stroke="#0000ff" stroke-width="1.55" />
<line x1="405.40" y1="514.14" x2="415.40" y2="504.14" stroke="#0000ff" stroke-width="1.55" />
<line x1="405.40" y1="509.14" x2="415.40" y2="509.14" stroke="#0000ff" stroke-width="1.55" />
<line x1="410.40" y1="504.14" x2="410.40" y2="514.14" stroke="#0000ff" stroke-width="1.55" />
<rect x="93.20" y="325.10" width="317.20" height="213.60" fill="none" stroke="#000" stroke-width="1.65"/>
<line x1="93.20" y1="505.33" x2="100.60" y2="505.33" stroke="#000" stroke-width="1.55" />
<line x1="410.40" y1="505.33" x2="403.00" y2="505.33" stroke="#000" stroke-width="1.55" />
<line x1="93.20" y1="471.97" x2="100.60" y2="471.97" stroke="#000" stroke-width="1.55" />
<line x1="410.40" y1="471.97" x2="403.00" y2="471.97" stroke="#000" stroke-width="1.55" />
<line x1="93.20" y1="438.60" x2="100.60" y2="438.60" stroke="#000" stroke-width="1.55" />
<line x1="410.40" y1="438.60" x2="403.00" y2="438.60" stroke="#000" stroke-width="1.55" />
<line x1="93.20" y1="405.23" x2="100.60" y2="405.23" stroke="#000" stroke-width="1.55" />
<line x1="410.40" y1="405.23" x2="403.00" y2="405.23" stroke="#000" stroke-width="1.55" />
<line x1="93.20" y1="371.87" x2="100.60" y2="371.87" stroke="#000" stroke-width="1.55" />
<line x1="410.40" y1="371.87" x2="403.00" y2="371.87" stroke="#000" stroke-width="1.55" />
<line x1="93.20" y1="338.50" x2="100.60" y2="338.50" stroke="#000" stroke-width="1.55" />
<line x1="410.40" y1="338.50" x2="403.00" y2="338.50" stroke="#000" stroke-width="1.55" />
<line x1="156.64" y1="538.70" x2="156.64" y2="531.30" stroke="#000" stroke-width="1.55" />
<line x1="156.64" y1="325.10" x2="156.64" y2="332.50" stroke="#000" stroke-width="1.55" />
<line x1="220.08" y1="538.70" x2="220.08" y2="531.30" stroke="#000" stroke-width="1.55" />
<line x1="220.08" y1="325.10" x2="220.08" y2="332.50" stroke="#000" stroke-width="1.55" />
<line x1="283.52" y1="538.70" x2="283.52" y2="531.30" stroke="#000" stroke-width="1.55" />
<line x1="283.52" y1="325.10" x2="283.52" y2="332.50" stroke="#000" stroke-width="1.55" />
<line x1="346.96" y1="538.70" x2="346.96" y2="531.30" stroke="#000" stroke-width="1.55" />
<line x1="346.96" y1="325.10" x2="346.96" y2="332.50" stroke="#000" stroke-width="1.55" />
<text x="82.60" y="544.41" text-anchor="end" >0</text>
<text x="82.60" y="511.05" text-anchor="end" >50</text>
<text x="82.60" y="477.68" text-anchor="end" >100</text>
<text x="82.60" y="444.31" text-anchor="end" >150</text>
<text x="82.60" y="410.95" text-anchor="end" >200</text>
<text x="82.60" y="377.58" text-anchor="end" >250</text>
<text x="82.60" y="344.21" text-anchor="end" >300</text>
<text x="95.50" y="561.50" text-anchor="middle" >0</text>
<text x="158.94" y="561.50" text-anchor="middle" >200</text>
<text x="222.38" y="561.50" text-anchor="middle" >400</text>
<text x="285.82" y="561.50" text-anchor="middle" >600</text>
<text x="349.26" y="561.50" text-anchor="middle" >800</text>
<text x="412.70" y="561.50" text-anchor="middle" >1000</text>
<text x="251.8" y="588.3" text-anchor="middle">Static disorder (cm<tspan font-size="14" dy="-7.8">−1</tspan><tspan dy="7.8">)</tspan></text>
<text transform="translate(41.3,431.5) rotate(-90)" text-anchor="middle">Diffusion constant (nm<tspan font-size="14" dy="-7.8">2</tspan><tspan dy="7.8">/ps)</tspan></text>
<text x="119.30" y="347.90" text-anchor="start" >(b)</text>
<text x="331.60" y="347.16" text-anchor="end" letter-spacing="0.1">Kubo−Anderson</text>
<line x1="341.80" y1="341.35" x2="390.00" y2="341.35" stroke="#000" stroke-width="1.55" />
<circle cx="365.80" cy="341.35" r="5.00" fill="#000"/>
<text x="331.60" y="364.21" text-anchor="end" letter-spacing="0.1">HSR</text>
<line x1="341.80" y1="358.40" x2="390.00" y2="358.40" stroke="#ff0000" stroke-width="1.55" />
<line x1="360.80" y1="353.40" x2="370.80" y2="363.40" stroke="#ff0000" stroke-width="1.55" />
<line x1="360.80" y1="363.40" x2="370.80" y2="353.40" stroke="#ff0000" stroke-width="1.55" />
<text x="331.60" y="381.26" text-anchor="end" letter-spacing="0.1">Hopping</text>
<line x1="341.80" y1="375.45" x2="390.00" y2="375.45" stroke="#0000ff" stroke-width="1.55" />
<line x1="360.80" y1="370.45" x2="370.80" y2="380.45" stroke="#0000ff" stroke-width="1.55" />
<line x1="360.80" y1="380.45" x2="370.80" y2="370.45" stroke="#0000ff" stroke-width="1.55" />
<line x1="360.80" y1="375.45" x2="370.80" y2="375.45" stroke="#0000ff" stroke-width="1.55" />
<line x1="365.80" y1="370.45" x2="365.80" y2="380.45" stroke="#0000ff" stroke-width="1.55" />
</svg>
</body></html>
